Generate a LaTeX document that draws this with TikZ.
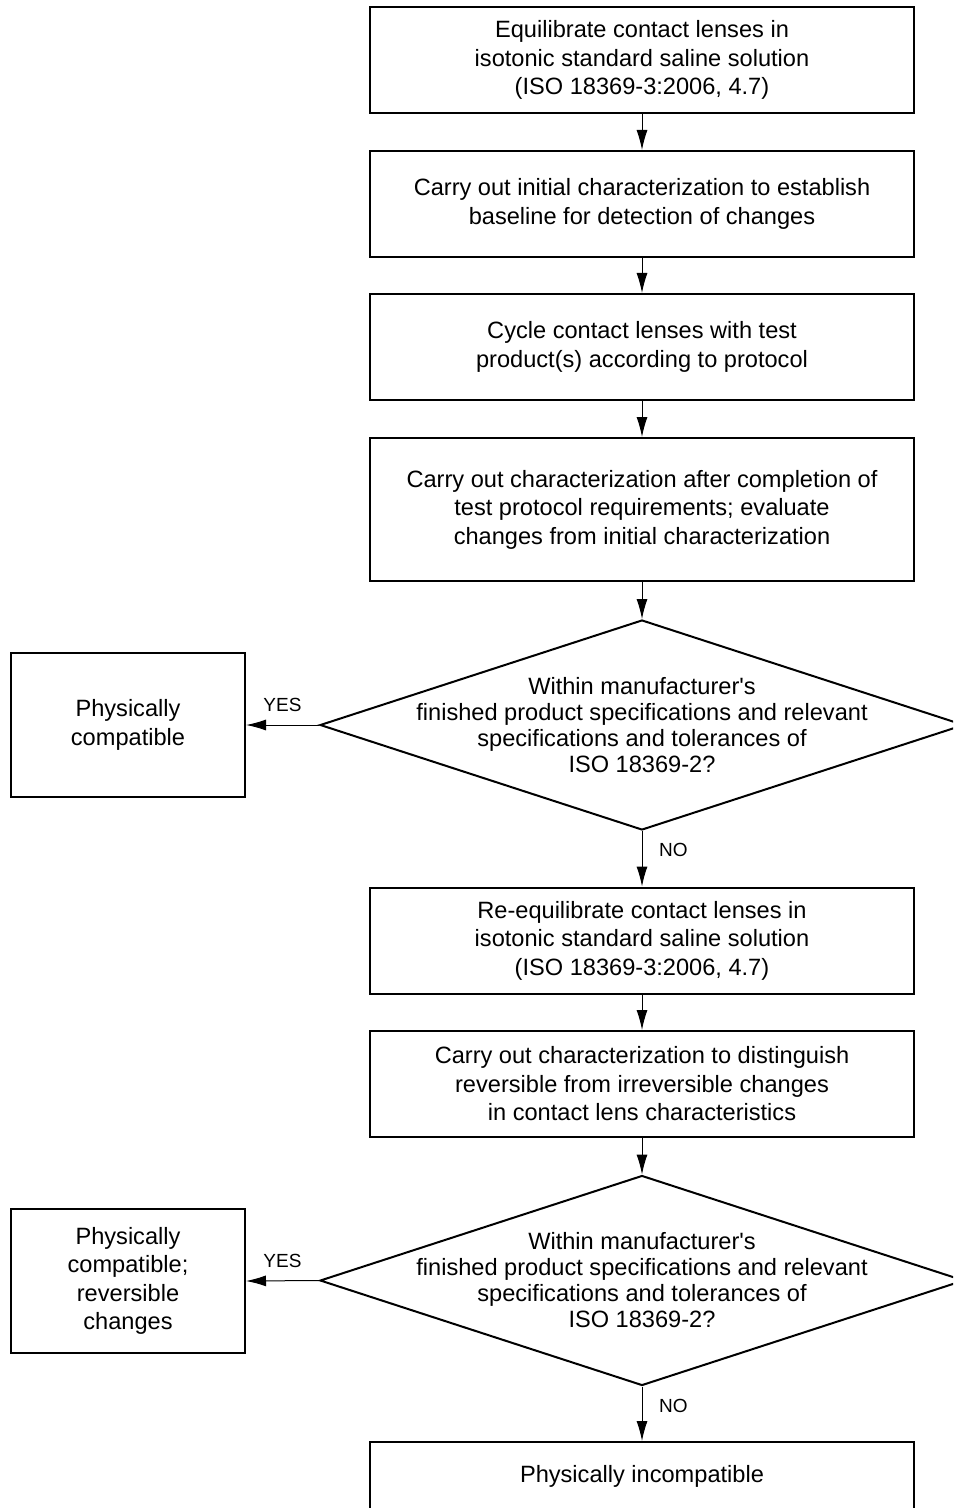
\documentclass[tikz,border=0pt]{standalone}
\usepackage{fontspec}
\setmainfont{Liberation Sans}
\usetikzlibrary{arrows.meta, shapes.geometric}

\begin{document}
\begin{tikzpicture}[x=0.5pt, y=-0.5pt, >={Latex[length=10pt,width=5.5pt]},
    stepbox/.style={draw, line width=1pt, minimum width=272pt, minimum height=53pt,
      align=center, font=\fontsize{11.8}{14.25}\selectfont, inner sep=0pt},
    sidebox/.style={draw, line width=1pt, minimum width=117pt, minimum height=72pt,
      align=center, font=\fontsize{11.8}{14.25}\selectfont, inner sep=0pt},
    decision/.style={draw, diamond, line width=1pt, minimum width=322pt, minimum height=105pt,
      inner sep=0pt},
    question/.style={align=center, font=\fontsize{11.8}{13}\selectfont},
    flow/.style={->, line width=0.5pt},
    answer/.style={font=\fontsize{9.5}{10}\selectfont}]
  \clip (0,0) rectangle (953,1508);
  % Main column
  \node[stepbox] (equil) at (642,60) {Equilibrate contact lenses in\\isotonic standard saline solution\\(ISO 18369-3:2006, 4.7)};
  \node[stepbox] (initial) at (642,204) {Carry out initial characterization to establish\\baseline for detection of changes};
  \node[stepbox] (cycle) at (642,347) {Cycle contact lenses with test\\product(s) according to protocol};
  \node[stepbox, minimum height=71.5pt] (after) at (642,509.5) {Carry out characterization after completion of\\test protocol requirements; evaluate\\changes from initial characterization};
  \node[decision, label={[question]center:{Within manufacturer\textquotesingle s\\finished product specifications and relevant\\specifications and tolerances of\\ISO 18369-2?}}] (check1) at (642,725) {};
  \node[stepbox] (reequil) at (642,940.5) {Re-equilibrate contact lenses in\\isotonic standard saline solution\\(ISO 18369-3:2006, 4.7)};
  \node[stepbox] (distinguish) at (642,1084) {Carry out characterization to distinguish\\reversible from irreversible changes\\in contact lens characteristics};
  \node[decision, label={[question]center:{Within manufacturer\textquotesingle s\\finished product specifications and relevant\\specifications and tolerances of\\ISO 18369-2?}}] (check2) at (642,1280.5) {};
  \node[stepbox, minimum height=34pt] (incompat) at (642,1476) {Physically incompatible};
  % Side results
  \node[sidebox] (compat) at (128,725) {Physically\\compatible};
  \node[sidebox] (revers) at (128,1281) {Physically\\compatible;\\reversible\\changes};
  % Connectors
  \draw[flow] (equil) -- (initial);
  \draw[flow] (initial) -- (cycle);
  \draw[flow] (cycle) -- (after);
  \draw[flow] (after) -- (check1);
  \draw[flow] (check1) -- node[answer, right=5pt, pos=0.35] {NO} (reequil);
  \draw[flow] (reequil) -- (distinguish);
  \draw[flow] (distinguish) -- (check2);
  \draw[flow] (check2) -- node[answer, right=5pt, pos=0.35] {NO} (incompat);
  \draw[flow] (check1.west) -- node[answer, above=3pt] {YES} (compat.east);
  \draw[flow] (check2.west) -- node[answer, above=3pt] {YES} (revers.east);
\end{tikzpicture}
\end{document}
